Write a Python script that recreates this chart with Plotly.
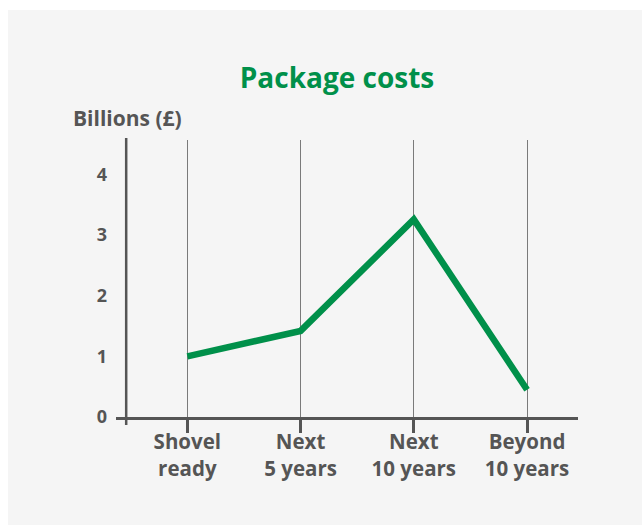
import plotly.graph_objects as go

# Package cost profile by delivery horizon (billions of pounds)
categories = ["Shovel<br>ready", "Next<br>5 years", "Next<br>10 years", "Beyond<br>10 years"]
costs = [1.0, 1.42, 3.26, 0.45]
y_ticks = [0, 1, 2, 3, 4]

GREEN = "#00904a"
DARK = "#555555"
GRID = "#7a7a7a"
PANEL = "#f5f5f5"
FONT = "Open Sans"
WEIGHT = 700

W, H = 642, 526
M_L, M_R, M_T, M_B = 116, 64, 140, 109
X_RANGE = [-0.63, 3.45]
Y_RANGE = [0, 4.57]
Y_AXIS_AT = -0.54  # where the vertical value axis crosses the category axis

x_pos = list(range(len(categories)))

fig = go.Figure()
fig.add_trace(go.Scatter(
    x=x_pos, y=costs, mode="lines",
    line=dict(color=GREEN, width=6.5),
    hoverinfo="skip", showlegend=False, cliponaxis=False,
))

pw = W - M_L - M_R
ph = H - M_T - M_B


def px_to_paper_x(px):
    return (px - M_L) / pw


def px_to_paper_y(py):
    return (H - M_B - py) / ph


shapes = [
    # grey card behind the chart
    dict(type="rect", xref="paper", yref="paper", layer="below",
         x0=px_to_paper_x(8), x1=px_to_paper_x(W + 2),
         y0=px_to_paper_y(525), y1=px_to_paper_y(10),
         fillcolor=PANEL, line=dict(width=0)),
    # vertical value axis
    dict(type="line", xref="paper", yref="paper",
         x0=(Y_AXIS_AT - X_RANGE[0]) / (X_RANGE[1] - X_RANGE[0]),
         x1=(Y_AXIS_AT - X_RANGE[0]) / (X_RANGE[1] - X_RANGE[0]),
         y0=px_to_paper_y(425), y1=px_to_paper_y(138),
         line=dict(color=DARK, width=2.5)),
]

fig.update_layout(
    width=W, height=H,
    margin=dict(l=M_L, r=M_R, t=M_T, b=M_B, pad=0),
    paper_bgcolor="white",
    plot_bgcolor="rgba(0,0,0,0)",
    font=dict(family=FONT, color=DARK),
    shapes=shapes,
    title=dict(
        text="Package costs",
        font=dict(family=FONT, size=28, color=GREEN, weight=WEIGHT),
        x=337 / W, xanchor="center", xref="container",
        y=1 - 78 / H, yanchor="middle", yref="container",
    ),
    annotations=[dict(
        text="Billions (£)", xref="paper", yref="paper",
        x=px_to_paper_x(71), xanchor="left",
        y=px_to_paper_y(118), yanchor="middle",
        showarrow=False, font=dict(family=FONT, size=21, color=DARK, weight=WEIGHT),
    )],
    xaxis=dict(
        range=X_RANGE, tickvals=x_pos, ticktext=categories,
        showgrid=True, gridcolor=GRID, gridwidth=1,
        showline=True, linecolor=DARK, linewidth=2.5,
        ticks="outside", ticklen=13, tickwidth=2.5, tickcolor=DARK,
        tickfont=dict(family=FONT, size=20.5, color=DARK, weight=WEIGHT),
        ticklabelstandoff=-8,
        zeroline=False, fixedrange=True,
    ),
    yaxis=dict(
        range=Y_RANGE, tickvals=y_ticks, ticktext=[str(t) for t in y_ticks],
        showgrid=False, zeroline=False, showline=False,
        ticks="", ticklabelstandoff=8,
        tickfont=dict(family=FONT, size=18, color=DARK, weight=WEIGHT),
        fixedrange=True,
    ),
)

fig.write_html("out.html")
